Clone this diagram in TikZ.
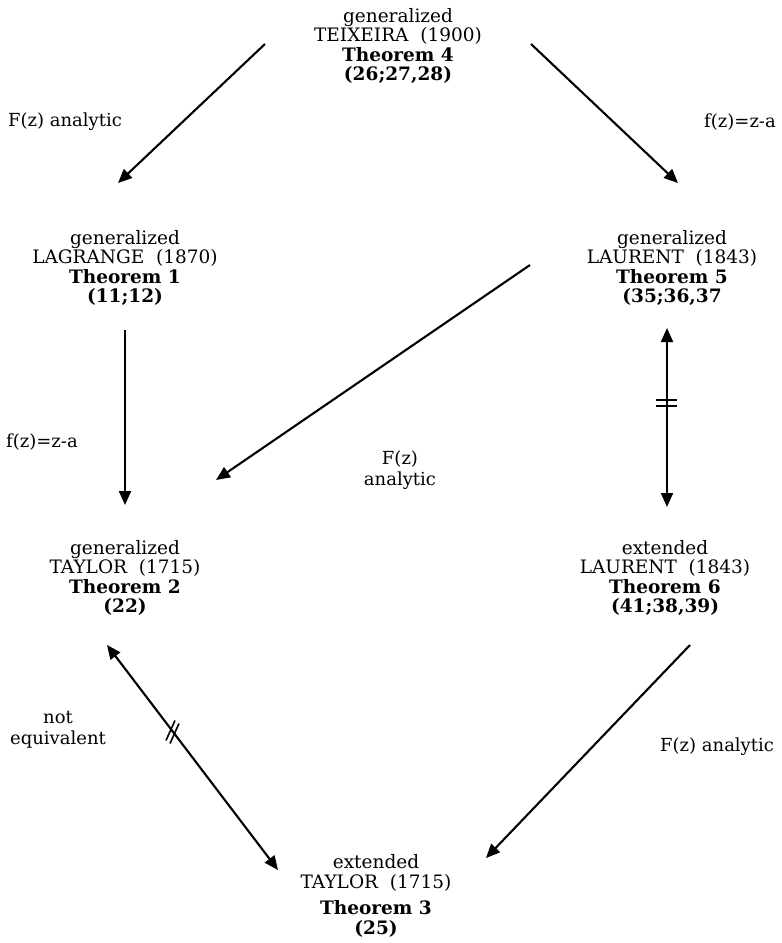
\documentclass[tikz,border=0pt]{standalone}
\usepackage{fontspec}
\setmainfont{DejaVu Serif}
\usetikzlibrary{arrows.meta,calc}
\begin{document}
\begin{tikzpicture}[x=1pt,y=-1pt,
  thm/.style={align=center,font=\fontsize{18.5}{19.5}\selectfont,inner sep=0pt},
  lbl/.style={align=center,font=\fontsize{18}{21}\selectfont,inner sep=0pt},
  arr/.style={line width=2.1pt,-{Triangle[length=14pt,width=12pt]}},
  darr/.style={line width=2.1pt,{Triangle[length=14pt,width=12pt]}-{Triangle[length=14pt,width=12pt]}},
  mk/.style={line width=1.6pt}]
\useasboundingbox (0,0) rectangle (782,943);
% theorem nodes
\node[thm] (top)  at (398,46)  {generalized\\TEIXEIRA~~(1900)\\\textbf{Theorem 4}\\\textbf{(26;27,28)}};
\node[thm] (lag)  at (125,268) {generalized\\LAGRANGE~~(1870)\\\textbf{Theorem 1}\\\textbf{(11;12)}};
\node[thm] (laug) at (672,268) {generalized\\LAURENT~~(1843)\\\textbf{Theorem 5}\\\textbf{(35;36,37}};
\node[thm] (tay)  at (125,578) {generalized\\TAYLOR~~(1715)\\\textbf{Theorem 2}\\\textbf{(22)}};
\node[thm] (laue) at (665,578) {extended\\LAURENT~~(1843)\\\textbf{Theorem 6}\\\textbf{(41;38,39)}};
\node[thm] (taye) at (376,896) {extended\\TAYLOR~~(1715)\\[7pt]\textbf{Theorem 3}\\\textbf{(25)}};
% labels
\node[lbl,anchor=west] (l1) at (8,122) {F(z)\ analytic};
\node[lbl,anchor=east] (l2) at (776,122) {f(z)=z-a};
\node[lbl,anchor=west] (l3) at (6,442) {f(z)=z-a};
\node[lbl] (l4) at (400,470) {F(z)\\analytic};
\node[lbl] (l5) at (58,730) {not\\equivalent};
\node[lbl,anchor=west] (l6) at (660,747) {F(z)\ analytic};
% connector ends
\coordinate (a1s) at (265,44);  \coordinate (a1e) at (118,183);
\coordinate (a2s) at (531,44);  \coordinate (a2e) at (678,183);
\coordinate (a3s) at (125,330); \coordinate (a3e) at (125,505);
\coordinate (a4s) at (530,265); \coordinate (a4e) at (216,480);
\coordinate (a5s) at (667,328); \coordinate (a5e) at (667,507);
\coordinate (a6s) at (107,645); \coordinate (a6e) at (278,870);
\coordinate (a7s) at (690,645); \coordinate (a7e) at (486,858);
% connectors
\draw[arr] (a1s) -- (a1e);
\draw[arr] (a2s) -- (a2e);
\draw[arr] (a3s) -- (a3e);
\draw[arr] (a4s) -- (a4e);
\draw[darr] (a5s) -- coordinate[pos=0.42] (m5) (a5e);
\draw[darr] (a6s) -- coordinate[pos=0.38] (m6) (a6e);
% not-equivalent marks
\draw[mk] ($(m5)+(-11,-3)$) -- ($(m5)+(10,-3)$);
\draw[mk] ($(m5)+(-11,3)$) -- ($(m5)+(10,3)$);
\draw[mk] ($(m6)+(-6,10)$) -- ($(m6)+(3,-10)$);
\draw[mk] ($(m6)+(-2,13)$) -- ($(m6)+(7,-7)$);
\draw[arr] (a7s) -- (a7e);
\end{tikzpicture}
\end{document}
